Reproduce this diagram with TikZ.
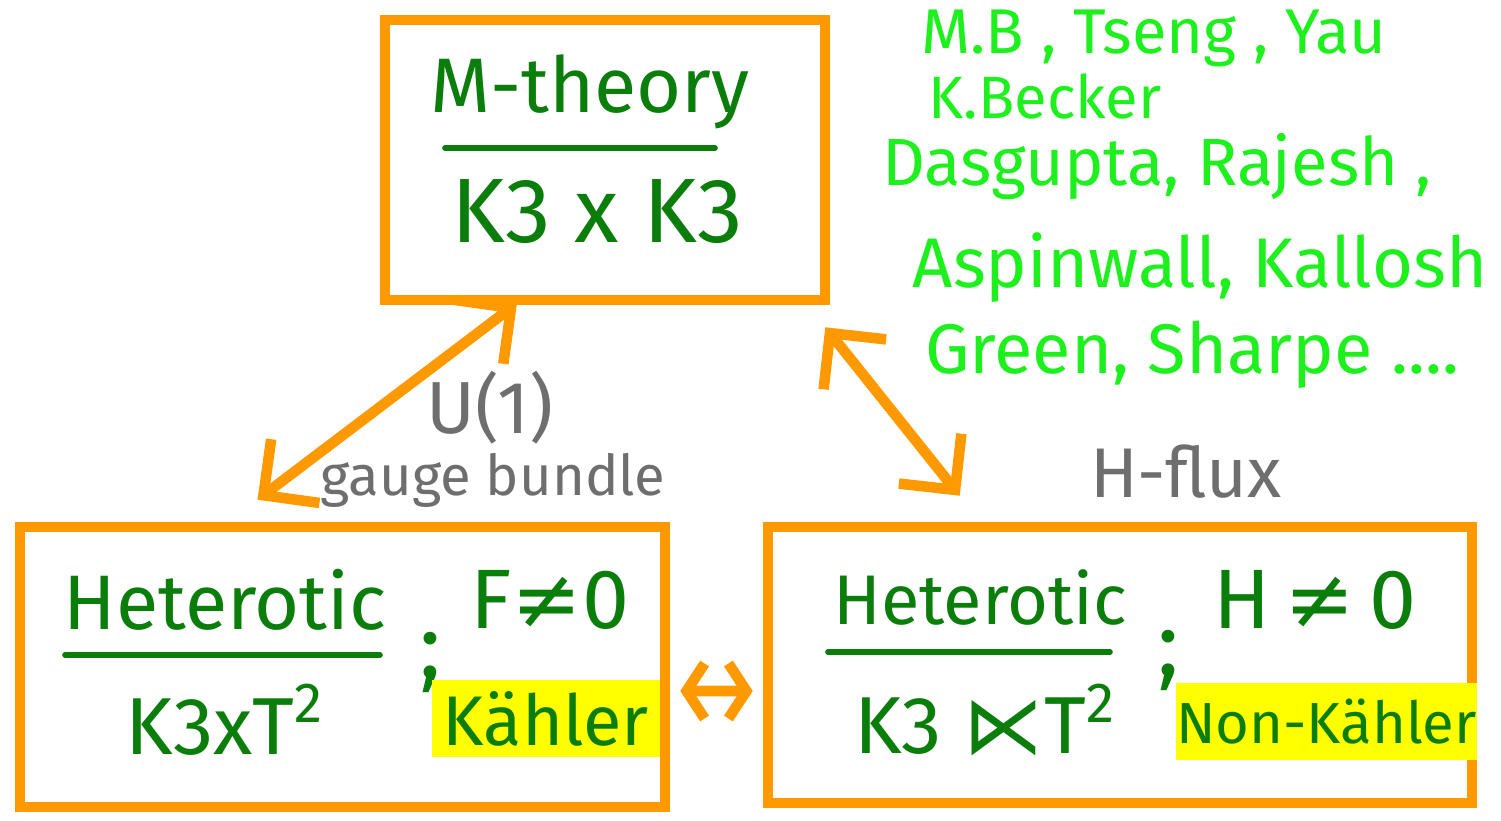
\documentclass[tikz,border=0pt]{standalone}
\usepackage{fontspec}
\setmainfont{Fira Sans}
\newfontfamily\symf{DejaVu Sans}
\usepackage{xcolor}
\usetikzlibrary{arrows.meta,positioning}

\definecolor{boxorange}{HTML}{FF9900}
\definecolor{inkgreen}{HTML}{0B7D0B}
\definecolor{namegreen}{HTML}{1EF01E}
\definecolor{inkgrey}{HTML}{6E6E6E}
\definecolor{marker}{HTML}{FFFF00}

\newcommand{\fs}[1]{\fontsize{#1}{#1}\selectfont}
\newcommand{\neqsym}{{\symf\char"2260}}
\newcommand{\semidir}{{\symf\char"22C9}}

\begin{document}
\begin{tikzpicture}[
  frame/.style={draw=boxorange, line width=3pt, inner sep=0pt},
  ink/.style={text=inkgreen, inner sep=1pt},
  names/.style={text=namegreen, inner sep=0pt},
  tag/.style={text=inkgrey, inner sep=0pt},
  rule/.style={draw=inkgreen, line width=1.6pt, line cap=round},
  hilite/.style={fill=marker, text=inkgreen, inner sep=0pt},
  dbl/.style={{Straight Barb[length=4mm,width=8mm]}-{Straight Barb[length=4mm,width=8mm]},
              draw=boxorange, line width=3pt, line cap=round, line join=round},
  dblshort/.style={dbl, {Straight Barb[length=1.8mm,width=5.5mm]}-{Straight Barb[length=1.8mm,width=5.5mm]}}
]
  \useasboundingbox (0,0) rectangle (15.01,-8.21);

  % the three boxes
  \node[frame, minimum width=4.4cm, minimum height=2.8cm] (mth) at (6.05,-1.6) {};
  \node[frame, minimum width=6.45cm, minimum height=2.8cm] (hetF) at (3.425,-6.67) {};
  \node[frame, minimum width=7.04cm, minimum height=2.76cm] (hetH) at (11.2,-6.65) {};

  % M-theory box
  \node[ink, font=\fs{22}] (mthTop) at (5.9,-0.92) {M-theory};
  \node[ink, font=\fs{26}] (mthBot) at (5.97,-2.12) {K3 x K3};
  \draw[rule] (4.45,-1.48) -- (7.15,-1.48);

  % heterotic, F nonzero
  \node[ink, font=\fs{22}] (hetFtop) at (2.25,-6.0) {Heterotic};
  \node[ink, font=\fs{23}] (hetFbot) at (2.25,-7.2) {K3xT\textsuperscript{2}};
  \draw[rule] (0.65,-6.55) -- (3.8,-6.55);
  \node[ink, font=\fs{26}] (semiF) at (4.3,-6.62) {;};
  \node[ink, font=\fs{24}] (fluxF) at (5.5,-6.0) {F\neqsym0};
  \node[hilite, font=\fs{20}, minimum width=2.28cm, minimum height=0.77cm] (kah) at (5.46,-7.185) {Kähler};

  % heterotic, H nonzero
  \node[ink, font=\fs{20}] (hetHtop) at (9.8,-5.98) {Heterotic};
  \node[ink, font=\fs{23}] (hetHbot) at (9.85,-7.2) {K3 \semidir T\textsuperscript{2}};
  \draw[rule] (8.28,-6.52) -- (11.1,-6.52);
  \node[ink, font=\fs{26}] (semiH) at (11.68,-6.6) {;};
  \node[ink, font=\fs{24}] (fluxH) at (13.15,-6.0) {H\,\neqsym\,0};
  \node[hilite, font=\fs{16.5}, minimum width=2.87cm, minimum height=0.77cm] (nonkah) at (13.265,-7.215) {Non-Kähler};

  % links
  \draw[dbl] ([shift={(-0.85,0.22)}]hetF.north) -- ([shift={(-0.88,0.02)}]mth.south);
  \draw[dbl] ([shift={(-0.05,-0.22)}]mth.south east) -- ([shift={(1.97,0.26)}]hetH.north west);
  \draw[dblshort] ([shift={(0.1,-0.24)}]hetF.east) -- ([shift={(-0.1,-0.26)}]hetH.west);

  \node[tag, font=\fs{21}] (u1) at (4.9,-4.08) {U(1)};
  \node[tag, font=\fs{16}] (gauge) at (4.93,-4.8) {gauge bundle};
  \node[tag, font=\fs{20}] (hflux) at (11.86,-4.72) {H-flux};

  % authors
  \node[names, font=\fs{18}] (n1) at (11.54,-0.38) {M.B , Tseng , Yau};
  \node[names, font=\fs{17}] (n2) at (10.45,-0.96) {K.Becker};
  \node[names, font=\fs{19}] (n3) at (11.57,-1.67) {Dasgupta, Rajesh ,};
  \node[names, font=\fs{20}] (n4) at (12.0,-2.68) {Aspinwall, Kallosh};
  \node[names, font=\fs{20}] (n5) at (11.92,-3.55) {Green, Sharpe ....};
\end{tikzpicture}
\end{document}
